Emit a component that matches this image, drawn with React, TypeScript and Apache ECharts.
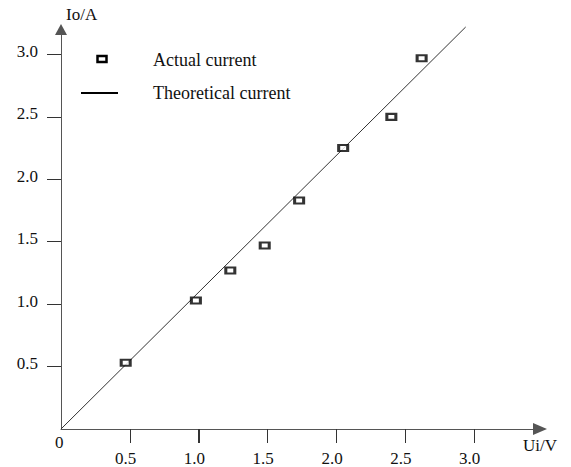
import React, { useEffect, useRef } from "react";
import * as echarts from "echarts";

const tickValues = [0.5, 1.0, 1.5, 2.0, 2.5, 3.0];
const actualU = [0.47, 0.98, 1.23, 1.48, 1.73, 2.05, 2.4, 2.62];
const actualI = [0.53, 1.03, 1.27, 1.47, 1.83, 2.25, 2.5, 2.97];
const theoryU = [0, 2.94];
const theoryI = [0, 3.22];
const seriesNames = ["Actual current", "Theoretical current"];
const axisNames = ["Ui/V", "Io/A"];

const FONT = "'Liberation Serif', 'Times New Roman', serif";

export default function App() {
  const ref = useRef<HTMLDivElement>(null);
  useEffect(() => {
    if (!ref.current) return;
    const chart = echarts.init(ref.current, null, { renderer: "svg" });
    const staticGraphics: any[] = [
      {
        type: "text",
        left: 66,
        top: 6,
        style: { text: axisNames[1], font: `17px ${FONT}`, fill: "#111" },
      },
      {
        type: "text",
        left: 523,
        top: 437,
        style: { text: axisNames[0], font: `17px ${FONT}`, fill: "#111" },
      },
      {
        type: "text",
        left: 55,
        top: 434,
        style: { text: "0", font: `17px ${FONT}`, fill: "#111" },
      },
      {
        type: "rect",
        shape: { x: 97.5, y: 56, width: 9, height: 6 },
        style: { fill: "#fff", stroke: "#000", lineWidth: 2.5 },
      },
      {
        type: "line",
        shape: { x1: 81, y1: 93, x2: 118, y2: 93 },
        style: { stroke: "#000", lineWidth: 2 },
      },
      {
        type: "text",
        left: 153,
        top: 51,
        style: { text: seriesNames[0], font: `18px ${FONT}`, fill: "#111" },
      },
      {
        type: "text",
        left: 153,
        top: 84,
        style: { text: seriesNames[1], font: `18px ${FONT}`, fill: "#111" },
      },
    ];
    chart.setOption({
      animation: false,
      backgroundColor: "#fff",
      grid: { left: 61, top: 29.5, right: 31, bottom: 38 },
      xAxis: {
        type: "value",
        min: 0,
        max: 3.48,
        splitLine: { show: false },
        axisTick: {
          show: true,
          length: 14,
          customValues: tickValues,
          lineStyle: { color: "#333", width: 1 },
        },
        axisLine: {
          show: true,
          onZero: false,
          symbol: ["none", "triangle"],
          symbolSize: [12, 14],
          lineStyle: { color: "#555", width: 1 },
        },
        axisLabel: {
          customValues: tickValues,
          formatter: (v: number) => v.toFixed(1) + "\u00a0\u00a0",
          margin: 21,
          color: "#111",
          fontFamily: FONT,
          fontSize: 17,
        },
      },
      yAxis: {
        type: "value",
        min: 0,
        max: 3.2,
        splitLine: { show: false },
        axisTick: {
          show: true,
          length: 14,
          customValues: tickValues,
          lineStyle: { color: "#333", width: 1 },
        },
        axisLine: {
          show: true,
          onZero: false,
          symbol: ["none", "triangle"],
          symbolSize: [12, 11],
          lineStyle: { color: "#555", width: 1 },
        },
        axisLabel: {
          customValues: tickValues,
          formatter: (v: number) => v.toFixed(1),
          margin: 23,
          verticalAlign: "bottom",
          lineHeight: 6,
          color: "#111",
          fontFamily: FONT,
          fontSize: 17,
        },
      },
      series: [
        {
          name: seriesNames[1],
          type: "line",
          clip: false,
          symbol: "none",
          lineStyle: { color: "#333", width: 1 },
          data: theoryU.map((u, i) => [u, theoryI[i]]),
          z: 2,
        },
        {
          name: seriesNames[0],
          type: "scatter",
          symbol: "rect",
          symbolSize: [9, 6],
          itemStyle: { color: "#fff", borderColor: "#000", borderWidth: 2.5 },
          data: actualU.map((u, i) => [u, actualI[i]]),
          z: 3,
        },
      ],
      graphic: staticGraphics,
    });
    // x-axis tick marks placed through the axis scale
    const y0 = chart.convertToPixel({ yAxisIndex: 0 }, 0) as number;
    const tickGraphics = tickValues.map((v) => {
      const x = Math.round(chart.convertToPixel({ xAxisIndex: 0 }, v) as number) + 0.5;
      return {
        type: "line",
        z: 100,
        shape: { x1: x, y1: Math.round(y0), x2: x, y2: Math.round(y0) + 14 },
        style: { stroke: "#333", lineWidth: 1 },
      };
    });
    chart.setOption({ graphic: [...staticGraphics, ...tickGraphics] }, { replaceMerge: ["graphic"] });
    return () => chart.dispose();
  }, []);
  return <div ref={ref} style={{ width: 571, height: 467, position: "absolute", left: 0, top: 0 }} />;
}
